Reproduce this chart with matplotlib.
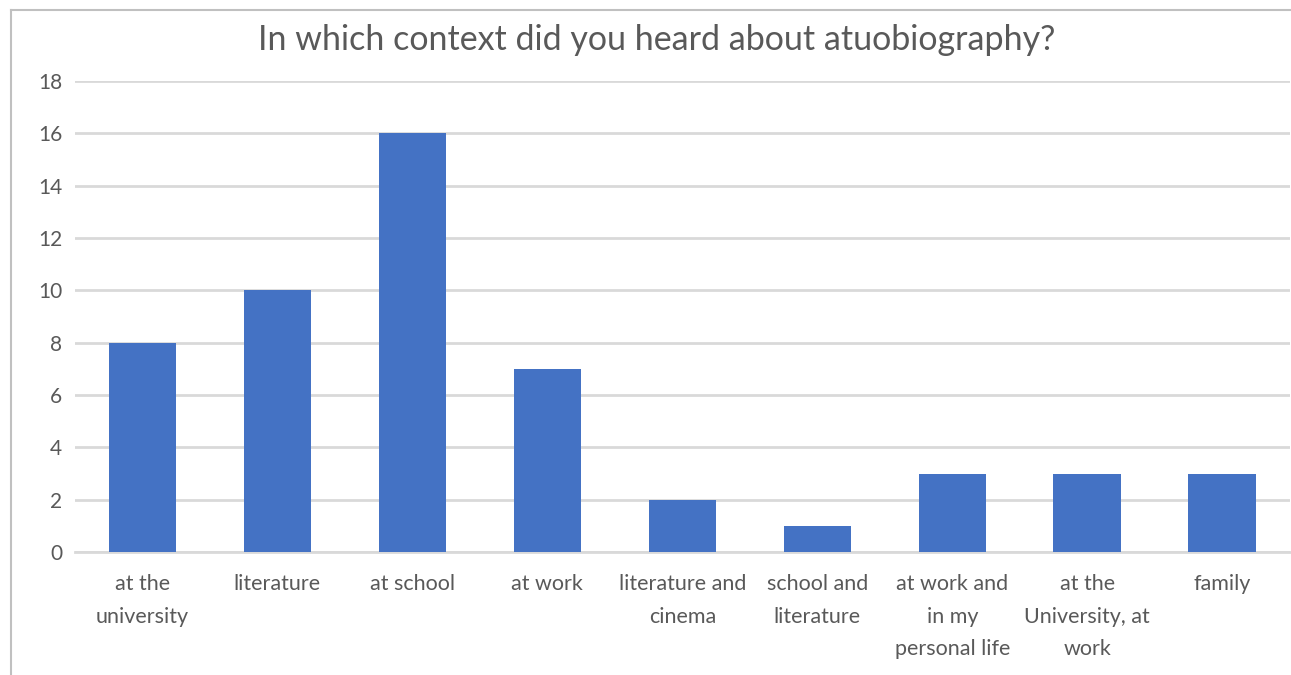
import matplotlib

matplotlib.use("Agg")
import matplotlib.pyplot as plt
from matplotlib.lines import Line2D

CATEGORIES = [
    "at the\nuniversity",
    "literature",
    "at school",
    "at work",
    "literature and\ncinema",
    "school and\nliterature",
    "at work and\nin my\npersonal life",
    "at the\nUniversity, at\nwork",
    "family",
]
COUNTS = [8, 10, 16, 7, 2, 1, 3, 3, 3]
Y_TICKS = [0, 2, 4, 6, 8, 10, 12, 14, 16, 18]

TITLE = "In which context did you heard about atuobiography?"
BAR_COLOR = "#4472c4"
TEXT_COLOR = "#595959"
GRID_COLOR = "#d9d9d9"

plt.rcParams["font.family"] = ["Lato", "DejaVu Sans"]


def main():
    fig = plt.figure(figsize=(12.91, 6.75), dpi=100)
    ax = fig.add_axes([0.058, 0.182, 0.941, 0.698])

    positions = list(range(len(CATEGORIES)))
    ax.bar(positions, COUNTS, width=0.5, color=BAR_COLOR, zorder=3)

    ax.set_xlim(-0.5, len(CATEGORIES) - 0.5)
    ax.set_ylim(0, 18)
    ax.set_yticks(Y_TICKS)
    ax.set_xticks(positions)
    ax.set_xticklabels(CATEGORIES, linespacing=1.78, fontsize=15.5, color=TEXT_COLOR, va="top")
    ax.tick_params(axis="y", labelsize=15, labelcolor=TEXT_COLOR, length=0, pad=9)
    ax.tick_params(axis="x", length=0, pad=16)

    ax.grid(axis="y", color=GRID_COLOR, linewidth=2, zorder=0)
    for side in ["top", "right", "left"]:
        ax.spines[side].set_visible(False)
    ax.spines["bottom"].set_color(GRID_COLOR)
    ax.spines["bottom"].set_linewidth(2)

    fig.text(0.509, 0.94, TITLE, ha="center", va="center", fontsize=24.5, color=TEXT_COLOR)

    # screenshot frame on left and top edges
    fig.add_artist(Line2D([11 / 1291, 11 / 1291], [0, 1 - 10 / 675], color="#c0c0c0", linewidth=1.5))
    fig.add_artist(Line2D([11 / 1291, 1], [1 - 10 / 675, 1 - 10 / 675], color="#c0c0c0", linewidth=1.5))

    fig.savefig("out.png", dpi=100)


if __name__ == "__main__":
    main()
